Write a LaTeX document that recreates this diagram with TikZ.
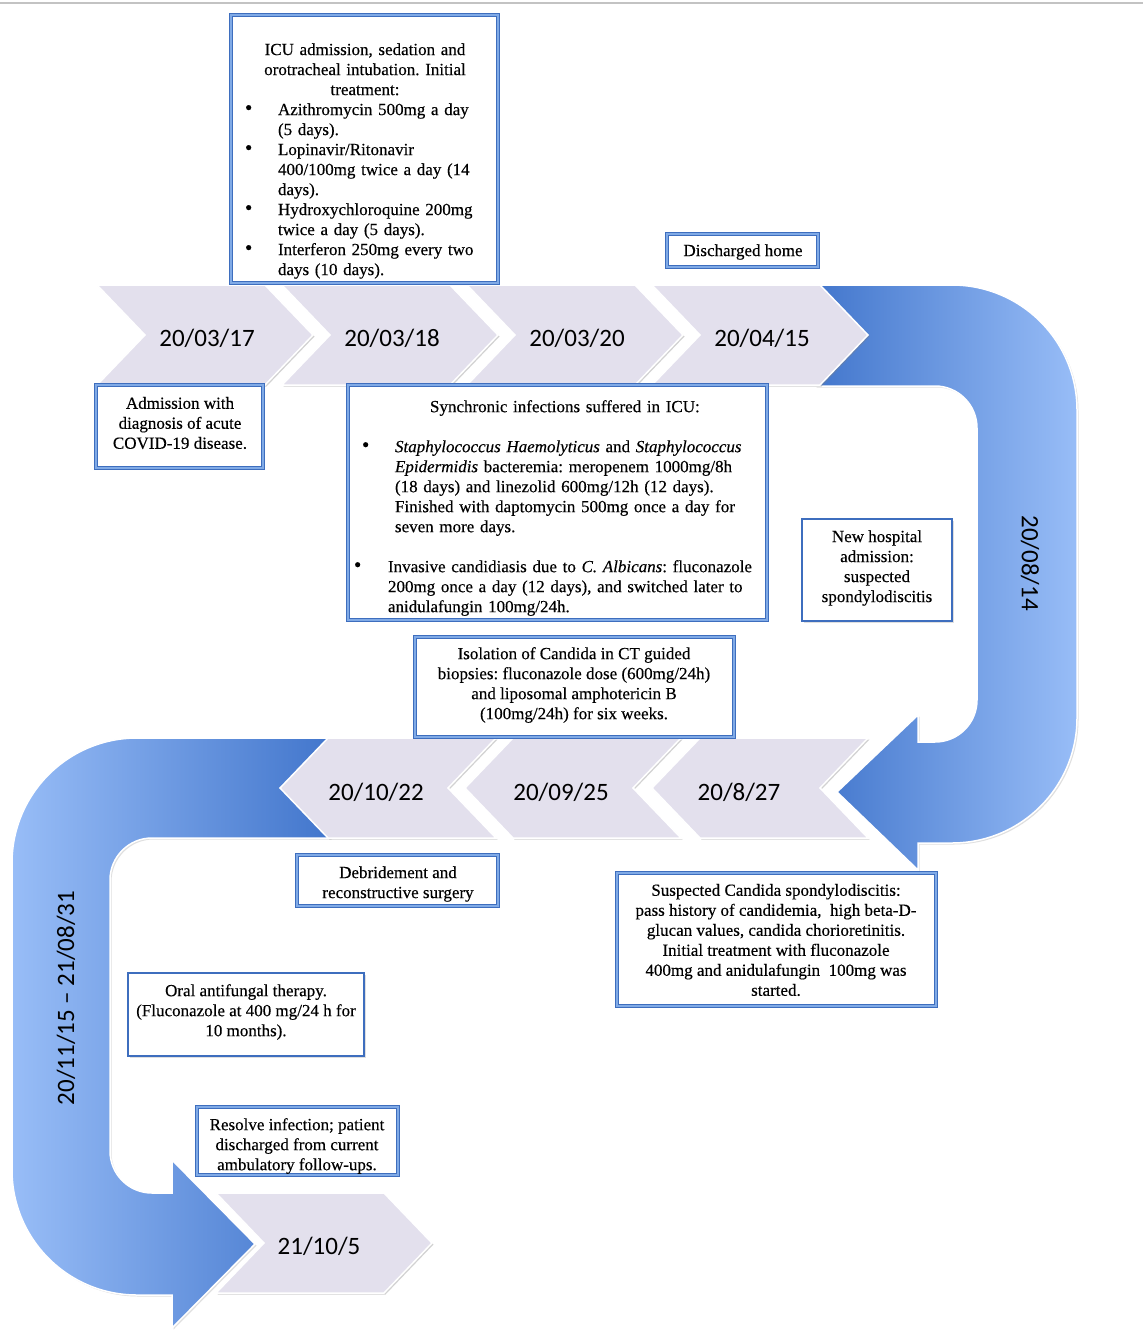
\documentclass[tikz,border=0pt]{standalone}
\usepackage{fontspec}
\setmainfont{Liberation Serif}[FakeBold=0.35]
\newfontfamily\datefont{Carlito}
\usetikzlibrary{shadows}
\definecolor{chevfill}{RGB}{227,224,237}
\definecolor{arrdark}{RGB}{66,118,204}
\definecolor{arrlight}{RGB}{152,189,247}
\definecolor{bxdark}{RGB}{62,110,190}
\definecolor{bxlight}{RGB}{128,170,230}
\definecolor{topline}{RGB}{195,195,195}
\newcommand{\bigbul}{\raisebox{0.5pt}{\fontsize{21}{20}\selectfont\textbullet}}
\newcommand{\bitem}[3]{\par\hspace*{#1}\makebox[#2][l]{\bigbul}\mbox{#3}}
\newcommand{\contl}[2]{\par\hspace*{#1}\mbox{#2}}
\newcommand{\chevR}[2]{\path[chev] (#1,#2) -- ++(168,0) -- ++(48,50) -- ++(-48,50) -- ++(-168,0) -- ++(48,-50) -- cycle;}
\newcommand{\chevL}[2]{\path[chev] (#1,#2+50) -- ++(48,-50) -- ++(168,0) -- ++(-48,50) -- ++(48,50) -- ++(-168,0) -- cycle;}
\frenchspacing
\begin{document}
\begin{tikzpicture}[x=1pt,y=-1pt,
  bxd/.style={fill=white, draw=bxdark, line width=1.2pt, double=bxlight, double distance=1.5pt, inner sep=0pt,
    drop shadow={shadow xshift=2pt, shadow yshift=-2pt, opacity=0.3}},
  bxs/.style={fill=white, draw=bxdark, line width=2pt, inner sep=0pt,
    drop shadow={shadow xshift=2pt, shadow yshift=-2pt, opacity=0.25}},
  txt/.style={font=\fontsize{17}{20}\selectfont, align=center, inner sep=0pt},
  ltxt/.style={font=\fontsize{17}{20}\selectfont, align=left, inner sep=0pt,
    execute at begin node={\setlength{\parindent}{0pt}}},
  date/.style={font=\datefont\fontsize{25}{28}\selectfont, inner sep=0pt},
  chev/.style={fill=chevfill, draw=white, line width=1.5pt,
    drop shadow={shadow xshift=1.5pt, shadow yshift=-1.5pt, opacity=0.35}},
  arr/.style={left color=arrdark, right color=arrlight, draw=white, line width=1.5pt,
    drop shadow={shadow xshift=1.5pt, shadow yshift=-1.5pt, opacity=0.25}},
  rarr/.style={left color=arrlight, right color=arrdark, draw=white, line width=1.5pt,
    drop shadow={shadow xshift=1.5pt, shadow yshift=-1.5pt, opacity=0.25}}
]
\useasboundingbox (0,0) rectangle (1143,1336);
\fill[white] (0,0) rectangle (1143,1336);
% top rule
\coordinate (tl) at (0,3);
\coordinate (tr) at (1143,3);
\draw[topline, line width=2pt] (tl) -- (tr);

% big curved arrows
\path[arr] (815,285) -- (952,285) arc[start angle=-90, end angle=0, radius=125]
  -- (1077,718) arc[start angle=0, end angle=90, radius=125]
  -- (918,843) -- (918,870) -- (837,792) -- (918,715) -- (918,742) -- (935,742)
  arc[start angle=90, end angle=0, radius=42] -- (977,428)
  arc[start angle=0, end angle=-90, radius=42] -- (815,386) -- cycle;
\path[rarr] (330,738) -- (137,738) arc[start angle=-90, end angle=-180, radius=125]
  -- (12,1170) arc[start angle=180, end angle=90, radius=125]
  -- (172,1295) -- (172,1328) -- (255,1244) -- (172,1160) -- (172,1193) -- (152,1193)
  arc[start angle=90, end angle=180, radius=42] -- (110,880)
  arc[start angle=180, end angle=270, radius=42] -- (330,838) -- cycle;

% chevrons
\chevR{97}{285}
\chevR{282}{285}
\chevR{467}{285}
\chevR{652}{285}
\chevL{280}{738}
\chevL{465}{738}
\chevL{652}{738}
\chevR{216}{1193}

% dates
\node[date] (d1) at (207,338) {20/03/17};
\node[date] (d2) at (392,338) {20/03/18};
\node[date] (d3) at (577,338) {20/03/20};
\node[date] (d4) at (762,338) {20/04/15};
\node[date, rotate=-90] (d5) at (1030,563) {20/08/14};
\node[date] (d6) at (739,792) {20/8/27};
\node[date] (d7) at (561,792) {20/09/25};
\node[date] (d8) at (376,792) {20/10/22};
\node[date, rotate=90] (d9) at (66,998) {20/11/15 – 21/08/31};
\node[date] (d10) at (319,1246) {21/10/5};

% boxes
\node[bxd, minimum width=267, minimum height=268] (icu) at (364.5,149) {};
\node[ltxt, text width=240pt] (icuT) at (365,161) {%
{\centering ICU admission, sedation and\\ orotracheal intubation. Initial\\ treatment:\par}
\bitem{0pt}{33pt}{Azithromycin 500mg a day}
\contl{33pt}{(5 days).}
\bitem{0pt}{33pt}{Lopinavir/Ritonavir}
\contl{33pt}{400/100mg twice a day (14}
\contl{33pt}{days).}
\bitem{0pt}{33pt}{Hydroxychloroquine 200mg}
\contl{33pt}{twice a day (5 days).}
\bitem{0pt}{33pt}{Interferon 250mg every two}
\contl{33pt}{days (10 days).}};

\node[bxd, minimum width=167, minimum height=83] (adm) at (179.5,426.5) {};
\node[txt] (admT) at (180,423) {Admission with\\diagnosis of acute\\COVID-19 disease.};

\node[bxd, minimum width=151, minimum height=33] (dis) at (742.5,250.5) {};
\node[txt] (disT) at (743,252) {Discharged home};

\node[bxd, minimum width=419, minimum height=235] (syn) at (557.5,502.5) {};
\node[ltxt, text width=440pt] (synT) at (570,504) {%
\contl{80pt}{Synchronic infections suffered in ICU:}
\par\mbox{}
\bitem{12pt}{33pt}{\textit{Staphylococcus Haemolyticus} and \textit{Staphylococcus}}
\contl{45pt}{\textit{Epidermidis} bacteremia: meropenem 1000mg/8h}
\contl{45pt}{(18 days) and linezolid 600mg/12h (12 days).}
\contl{45pt}{Finished with daptomycin 500mg once a day for}
\contl{45pt}{seven more days.}
\par\mbox{}
\bitem{4pt}{34pt}{Invasive candidiasis due to \textit{C. Albicans}: fluconazole}
\contl{38pt}{200mg once a day (12 days), and switched later to}
\contl{38pt}{anidulafungin 100mg/24h.}};

\node[bxs, minimum width=150, minimum height=102] (nha) at (877,570) {};
\node[txt] (nhaT) at (877,568) {New hospital\\admission:\\suspected\\spondylodiscitis};

\node[bxd, minimum width=319, minimum height=100] (iso) at (574.5,687) {};
\node[txt] (isoT) at (574,685) {Isolation of Candida in CT guided\\biopsies: fluconazole dose (600mg/24h)\\and liposomal amphotericin B\\(100mg/24h) for six weeks.};

\node[bxd, minimum width=201, minimum height=51] (deb) at (397.5,880.5) {};
\node[txt] (debT) at (398,884) {Debridement and\\reconstructive surgery};

\node[bxd, minimum width=319, minimum height=133] (sus) at (776.5,939.5) {};
\node[txt] (susT) at (776,940) {Suspected Candida spondylodiscitis:\\pass history of candidemia,\ \ high beta-D-\\glucan values, candida chorioretinitis.\\Initial treatment with fluconazole\\400mg and anidulafungin\ \ 100mg was\\started.};

\node[bxs, line width=1.6pt, minimum width=236, minimum height=83] (ora) at (246,1014.5) {};
\node[txt] (oraT) at (246,1012) {Oral antifungal therapy.\\(Fluconazole at 400 mg/24 h for\\10 months).};

\node[bxd, minimum width=201, minimum height=68] (res) at (297.5,1141) {};
\node[txt] (resT) at (297,1146) {Resolve infection; patient\\discharged from current\\ambulatory follow-ups.};
\end{tikzpicture}
\end{document}
